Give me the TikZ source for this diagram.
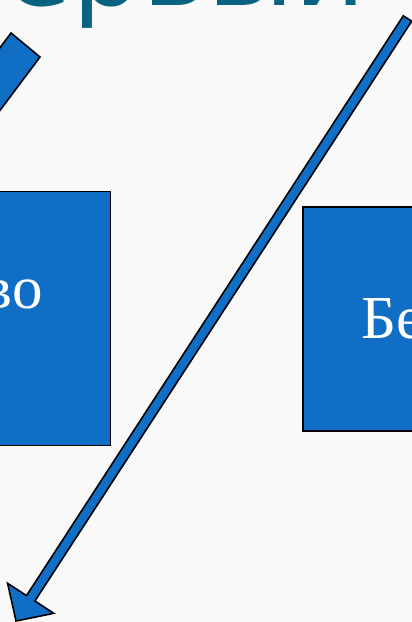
\documentclass[tikz,border=0pt]{standalone}
\usepackage{fontspec}
\setmainfont{Liberation Serif}
\newfontfamily\titlefont{DejaVu Sans}
\definecolor{bgcol}{RGB}{249,249,249}
\definecolor{boxblue}{RGB}{17,110,197}
\definecolor{titleteal}{RGB}{8,99,128}
\tikzset{
  bluebox/.style={draw=black, line width=1.8pt, fill=boxblue, rectangle, inner sep=0pt},
  blueshape/.style={draw=black, line width=1.6pt, fill=boxblue, line join=miter},
  boxtext/.style={text=white, inner sep=0pt, font=\fontsize{61}{61}\selectfont},
  titletext/.style={text=titleteal, inner sep=0pt, font=\titlefont\fontsize{110}{110}\selectfont}
}
\begin{document}
\begin{tikzpicture}[x=1pt,y=-1pt]
\useasboundingbox (0,0) rectangle (412,622);
\fill[bgcol] (0,0) rectangle (412,622);
\begin{scope}
\clip (0,0) rectangle (412,622);
% title
\node[titletext, anchor=base west] (title) at (-78,5) {Первый};
% boxes
\node[bluebox, minimum width=170.5pt, minimum height=254pt] (lbox) at (25.25,318.5) {};
\node[bluebox, minimum width=177.3pt, minimum height=224pt] (rbox) at (391.35,318.7) {};
\node[boxtext, anchor=base east] (ltext) at (43,308) {во};
\node[boxtext, anchor=base west] (rtext) at (361,338) {Бе};
% top-left thick arrow shaft
\coordinate (s1) at (11,33);
\coordinate (s2) at (40,57);
\coordinate (s3) at (-80,217);
\coordinate (s4) at (-109,193);
\draw[blueshape] (s1) -- (s2) -- (s3) -- (s4) -- cycle;
% long diagonal arrow
\coordinate (a1) at (403.3,15.8);
\coordinate (a2) at (411.7,21.2);
\coordinate (a3) at (34.9,601.0);
\coordinate (a4) at (53.8,613.3);
\coordinate (tip) at (16,621);
\coordinate (a6) at (7.6,583.3);
\coordinate (a7) at (26.5,595.6);
\draw[blueshape] (a1) -- (a2) -- (a3) -- (a4) -- (tip) -- (a6) -- (a7) -- cycle;
\end{scope}
\end{tikzpicture}
\end{document}
